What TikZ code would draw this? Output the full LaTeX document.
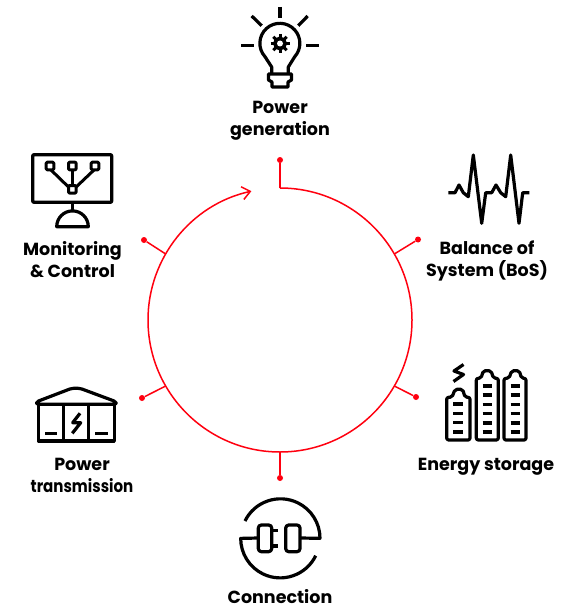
\documentclass[tikz,border=0pt]{standalone}
\usepackage{fontspec}
\setmainfont{Poppins}
\newfontfamily\tightfont{Poppins}[FakeStretch=0.86]
\usetikzlibrary{arrows.meta}
\definecolor{ringred}{HTML}{FF000F}
\tikzset{
  lbl/.style={align=center,inner sep=0pt,font=\bfseries\fontsize{17.5}{22}\selectfont},
  ring/.style={draw=ringred,line width=1.5pt},
  enddot/.style={circle,fill=ringred,inner sep=0pt,minimum size=6pt},
  icon/.style={draw=black,line width=3.2pt,line join=round},
  thinicon/.style={draw=black,line width=3pt,line join=round}
}
\begin{document}
\begin{tikzpicture}[x=1pt,y=-1pt]
  \useasboundingbox (0,0) rectangle (563,607);
  \begin{scope}
    \draw[ring,-{Straight Barb[length=8pt,width=13pt]}] (280,188) arc[start angle=90,end angle=-257.5,radius=132pt];

    \coordinate (rgen) at (280,188);
    \coordinate (rbos) at (394.3,254);
    \coordinate (rsto) at (394.3,386);
    \coordinate (rcon) at (280,452);
    \coordinate (rtra) at (165.7,386);
    \coordinate (rmon) at (165.7,254);

    \node[enddot] (dgen) at (280,160) {};
    \node[enddot] (dbos) at (418,239.5) {};
    \node[enddot] (dsto) at (416,397) {};
    \node[enddot] (dcon) at (280,478) {};
    \node[enddot] (dtra) at (142,398) {};
    \node[enddot] (dmon) at (144,240) {};

    \draw[ring] (rgen) -- (dgen);
    \draw[ring] (rbos) -- (dbos);
    \draw[ring] (rsto) -- (dsto);
    \draw[ring] (rcon) -- (dcon);
    \draw[ring] (rtra) -- (dtra);
    \draw[ring] (rmon) -- (dmon);

    \node[lbl] (lgen) at (280,120.5) {Power\\generation};
    \node[lbl] (lbos) at (487,260.5) {Balance of\\System (BoS)};
    \node[lbl] (lsto) at (486,467) {Energy storage};
    \node[lbl] (lcon) at (280,597) {Connection};
    \node[lbl] (ltra) at (82,475.5) {Power\\{\tightfont\bfseries transmission}};
    \node[lbl] (lmon) at (72.5,259.5) {Monitoring\\\& Control};

    % bulb
    \draw[icon] (280,7) -- (280,18.5);
    \draw[icon] (251.7,16) -- (261.7,25.7);
    \draw[icon] (307.7,16) -- (298.3,25.7);
    \draw[icon] (241,45.7) -- (254.3,45.7);
    \draw[icon] (306,45.7) -- (319,45.7);
    \draw[icon] (271.7,74) -- (271.7,67) -- (265,56.7) arc[start angle=222,end angle=-42,radius=20pt] -- (288.3,67) -- (288.3,74);
    \draw[icon] (268.5,74) -- (268.5,80) -- (272,82) -- (272,87) -- (288,87) -- (288,82) -- (291.5,80) -- (291.5,74) -- cycle;
    \draw[black,line width=3pt] (280,43.5) circle[radius=5.5pt];
    \draw[black,line width=3pt] (280,34) -- (280,53);
    \draw[black,line width=3pt] (270.5,43.5) -- (289.5,43.5);
    \draw[black,line width=3pt] (273.3,36.8) -- (286.7,50.2);
    \draw[black,line width=3pt] (286.7,36.8) -- (273.3,50.2);
    \fill[white] (280,43.5) circle[radius=3pt];

    % monitor
    \draw[icon,rounded corners=1pt] (32.7,154.7) rectangle (111.7,202.3);
    \draw[icon] (72.3,202.3) -- (72.3,210.5);
    \draw[icon] (56.7,226.7) arc[start angle=180,end angle=0,radius=15.8pt] -- cycle;
    \draw[thinicon,rounded corners=1pt] (46.2,162.2) rectangle (53.8,169.8);
    \draw[thinicon,rounded corners=1pt] (68.5,162.2) rectangle (76.1,169.8);
    \draw[thinicon,rounded corners=1pt] (91.2,162.2) rectangle (98.8,169.8);
    \draw[thinicon,rounded corners=1pt] (68.5,185.5) rectangle (76.1,193.1);
    \draw[thinicon] (51,170) -- (68.5,187);
    \draw[thinicon] (72.3,170) -- (72.3,185.5);
    \draw[thinicon] (94,170) -- (76.1,187);

    % wave
    \draw[icon,miter limit=20] (448.3,192.7) -- (455,192.7) -- (459,185) -- (463.3,192.7) -- (468.3,196.7) -- (473.3,155) -- (481.7,223.3) -- (485.7,192.7) -- (491.7,192.7) -- (496,185) -- (500.7,192.7) -- (505.7,196.7) -- (510.7,155) -- (519,223.3) -- (522.7,192.7) -- (529.3,192.7);

    % batteries
    \draw[icon,rounded corners=2pt] (446.7,440) -- (446.7,397.3) -- (452,397.3) -- (455,389.3) -- (462.7,389.3) -- (465,397.3) -- (470,397.3) -- (470,440) -- cycle;
    \draw[icon,rounded corners=2pt] (476.3,440) -- (476.3,378.3) -- (481,378.3) -- (483.3,370.7) -- (491,370.7) -- (493.5,378.3) -- (498.3,378.3) -- (498.3,440) -- cycle;
    \draw[icon,rounded corners=2pt] (504,440) -- (504,378.3) -- (509,378.3) -- (511.7,370.7) -- (519.3,370.7) -- (521.5,378.3) -- (526,378.3) -- (526,440) -- cycle;
    \draw[icon] (453.3,404) -- (463.3,404);
    \draw[icon] (453.3,413.3) -- (463.3,413.3);
    \draw[icon] (453.3,422.7) -- (463.3,422.7);
    \draw[icon] (453.3,432) -- (463.3,432);
    \draw[icon] (482.7,386) -- (491.7,386);
    \draw[icon] (482.7,395) -- (491.7,395);
    \draw[icon] (482.7,404.3) -- (491.7,404.3);
    \draw[icon] (482.7,413.7) -- (491.7,413.7);
    \draw[icon] (482.7,423) -- (491.7,423);
    \draw[icon] (482.7,432) -- (491.7,432);
    \draw[icon] (510.7,386) -- (520,386);
    \draw[icon] (510.7,395) -- (520,395);
    \draw[icon] (510.7,404.3) -- (520,404.3);
    \draw[icon] (510.7,413.7) -- (520,413.7);
    \draw[icon] (510.7,423) -- (520,423);
    \draw[icon] (510.7,432) -- (520,432);
    \draw[icon] (463.5,364.5) -- (454,371) -- (463.5,374.5) -- (453.5,381.5);

    % building
    \draw[icon,rounded corners=2pt] (36.7,404.3) -- (36.7,401.7) -- (71.7,388.3) -- (80,388.3) -- (116,401.7) -- (116,404.3) -- cycle;
    \draw[icon] (38.3,404.3) rectangle (114.3,441);
    \draw[icon] (63.3,404.3) -- (63.3,441);
    \draw[icon] (88.3,404.3) -- (88.3,441);
    \draw[icon] (45,433.3) -- (57.3,433.3);
    \draw[icon] (95,433.3) -- (107.7,433.3);
    \draw[icon] (80,413.3) -- (72.7,422.7) -- (80.7,422.7) -- (72.3,433.3);

    % plug
    \draw[icon] (245,521) arc[start angle=154,end angle=0,radius=39.5pt] -- (300,538);
    \draw[icon] (315.7,555.7) arc[start angle=-26,end angle=-180,radius=39.5pt] -- (258.3,538);
    \draw[icon,rounded corners=3pt] (258.3,525) rectangle (271.7,551.7);
    \draw[icon,rounded corners=3pt] (285.7,525) rectangle (300,551.7);
    \draw[icon] (271.7,530.7) -- (278.3,530.7);
    \draw[icon] (271.7,546) -- (278.3,546);
  \end{scope}
\end{tikzpicture}
\end{document}
